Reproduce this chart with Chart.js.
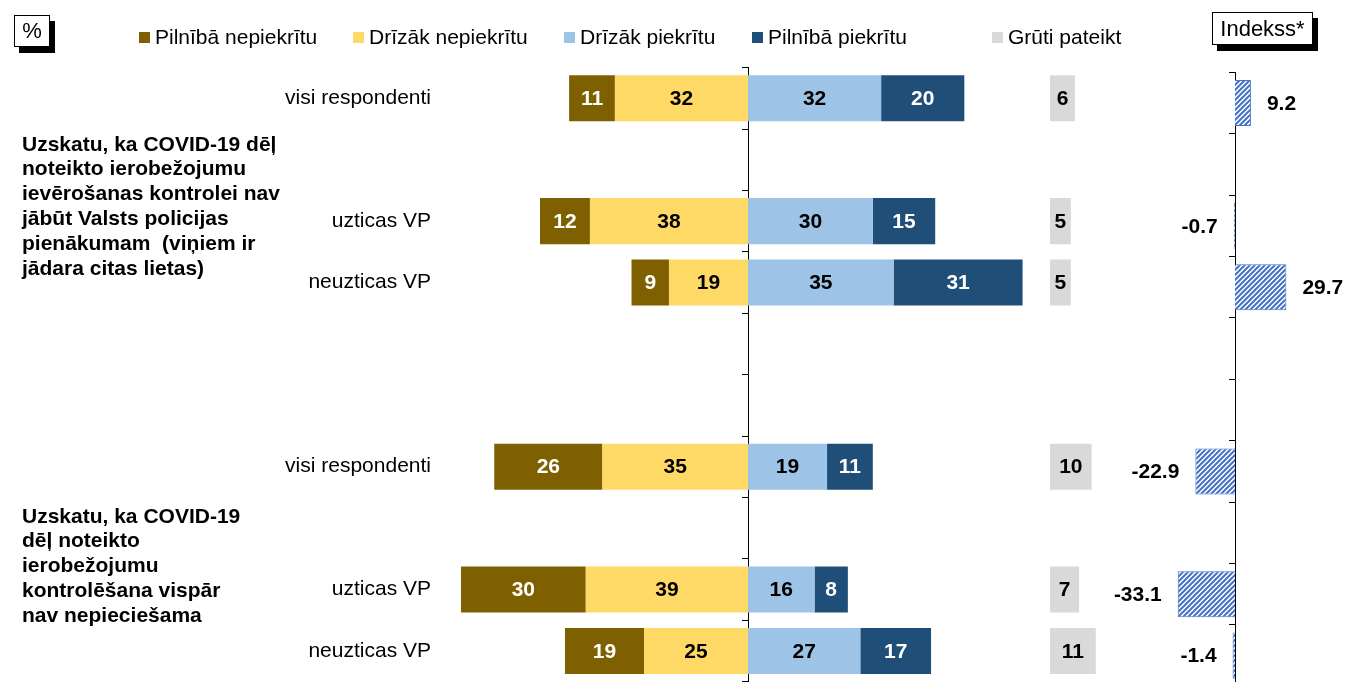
<!DOCTYPE html>
<html>
<head>
<meta charset="utf-8">
<script src="https://cdn.jsdelivr.net/npm/chart.js@4"></script>
<style>
  body { margin: 0; width: 1347px; height: 682px; overflow: hidden; background: #fff; position: relative;
         font-family: "Liberation Sans", Arial, sans-serif; color: #000; }
  canvas { position: absolute; }
  #main { left: 0; top: 0; }
  #idx { left: 1090px; top: 5px; }
  .box { position: absolute; border: 1px solid #000; background: #fff; box-shadow: 5px 6px 0 #000;
         text-align: center; box-sizing: border-box; z-index: 2; }
  .lg { position: absolute; top: 26px; font-size: 21px; line-height: 22px; white-space: nowrap; z-index: 2; }
  .lg i { position: absolute; left: -16px; top: 6px; width: 11px; height: 11px; }
  .grp { position: absolute; left: 22px; font-weight: bold; font-size: 21px; line-height: 24.8px;
         white-space: nowrap; z-index: 2; }
</style>
</head>
<body>
<canvas id="main" width="1347" height="720"></canvas>
<canvas id="idx" width="257" height="720"></canvas>

<div class="box" style="left:14px;top:15px;width:36px;height:32px;font-size:22px;line-height:30px;">%</div>
<div class="box" style="left:1212px;top:12px;width:101px;height:33px;font-size:22px;line-height:31px;">Indekss*</div>

<div class="lg" style="left:155px"><i style="background:#7F6000"></i>Pilnībā nepiekrītu</div>
<div class="lg" style="left:369px"><i style="background:#FFD966"></i>Drīzāk nepiekrītu</div>
<div class="lg" style="left:580px"><i style="background:#9DC3E6"></i>Drīzāk piekrītu</div>
<div class="lg" style="left:768px"><i style="background:#1F4E79"></i>Pilnībā piekrītu</div>
<div class="lg" style="left:1008px"><i style="background:#D9D9D9"></i>Grūti pateikt</div>

<div class="grp" style="top:131.6px">Uzskatu, ka COVID-19 dēļ<br>noteikto ierobežojumu<br>ievērošanas kontrolei nav<br>jābūt Valsts policijas<br>pienākumam &nbsp;(viņiem ir<br>jādara citas lietas)</div>
<div class="grp" style="top:503.6px">Uzskatu, ka COVID-19<br>dēļ noteikto<br>ierobežojumu<br>kontrolēšana vispār<br>nav nepieciešama</div>

<script>
// rindas (tukšās rindas = atstarpes starp grupām)
const categories = ['visi respondenti', '', 'uzticas VP', 'neuzticas VP', '', '', 'visi respondenti', '', 'uzticas VP', 'neuzticas VP'];

const pilnibaNepiekritu = [11, null, 12, 9, null, null, 26, null, 30, 19];
const drizakNepiekritu  = [32, null, 38, 19, null, null, 35, null, 39, 25];
const drizakPiekritu    = [32, null, 30, 35, null, null, 19, null, 16, 27];
const pilnibaPiekritu   = [20, null, 15, 31, null, null, 11, null, 8, 17];
const grutiPateikt      = [6, null, 5, 5, null, null, 10, null, 7, 11];
const indekss           = [9.2, null, -0.7, 29.7, null, null, -22.9, null, -33.1, -1.4];

const FONT = '"Liberation Sans", Arial, sans-serif';
const neg = arr => arr.map(v => v == null ? null : -v);

// skaitļi joslu vidū
const barLabels = {
    id: 'barLabels',
    afterDatasetsDraw(chart) {
        const ctx = chart.ctx;
        ctx.save();
        ctx.font = 'bold 21px ' + FONT;
        ctx.textAlign = 'center';
        ctx.textBaseline = 'middle';
        chart.data.datasets.forEach((ds, i) => {
            chart.getDatasetMeta(i).data.forEach((bar, j) => {
                const v = ds.data[j];
                if (v == null) return;
                ctx.fillStyle = ds.labelColor;
                ctx.fillText(Math.abs(v), (bar.x + bar.base) / 2, bar.y + 1);
            });
        });
        ctx.restore();
    }
};

// indeksa vērtības aiz joslas gala
const indexLabels = {
    id: 'indexLabels',
    afterDatasetsDraw(chart) {
        const ctx = chart.ctx;
        ctx.save();
        ctx.font = 'bold 21px ' + FONT;
        ctx.textBaseline = 'middle';
        ctx.fillStyle = '#000';
        chart.getDatasetMeta(0).data.forEach((bar, j) => {
            const v = indekss[j];
            if (v == null) return;
            ctx.textAlign = v >= 0 ? 'left' : 'right';
            ctx.fillText(v.toFixed(1), v >= 0 ? bar.x + 16 : bar.x - 16, bar.y + 1);
        });
        ctx.restore();
    }
};

const centerAxis = (xId) => ({
    type: 'category',
    axis: 'y',
    position: { [xId]: 0 },
    offset: true,
    grid: { offset: true, drawOnChartArea: false, drawTicks: true, tickLength: 6, color: '#000', lineWidth: 1 },
    border: { display: true, color: '#000', width: 1 },
    ticks: { display: false }
});

new Chart(document.getElementById('main'), {
    type: 'bar',
    data: {
        labels: categories,
        datasets: [
            { label: 'Drīzāk nepiekrītu', data: neg(drizakNepiekritu), backgroundColor: '#FFD966', labelColor: '#000' },
            { label: 'Pilnībā nepiekrītu', data: neg(pilnibaNepiekritu), backgroundColor: '#7F6000', labelColor: '#fff' },
            { label: 'Drīzāk piekrītu', data: drizakPiekritu, backgroundColor: '#9DC3E6', labelColor: '#000' },
            { label: 'Pilnībā piekrītu', data: pilnibaPiekritu, backgroundColor: '#1F4E79', labelColor: '#fff' },
            { label: 'Grūti pateikt', data: grutiPateikt, backgroundColor: '#D9D9D9', labelColor: '#000', xAxisID: 'xg' }
        ]
    },
    options: {
        indexAxis: 'y',
        responsive: false,
        animation: false,
        events: [],
        layout: { padding: { top: 67.6, bottom: 38.4, left: 0, right: 207 } },
        datasets: { bar: { grouped: false, barPercentage: 0.75, categoryPercentage: 1 } },
        plugins: { legend: { display: false }, tooltip: { enabled: false } },
        scales: {
            x: { type: 'linear', display: false, stacked: true, min: -74.04, max: 94.23 },
            xg: { type: 'linear', axis: 'x', display: false, min: -146.63, max: 21.63 },
            y: {
                type: 'category',
                stacked: true,
                offset: true,
                grid: { display: false, drawTicks: false },
                border: { display: false },
                ticks: { color: '#000', padding: 9, font: { size: 21, family: FONT } },
                afterFit(scale) { scale.width = 440; }
            },
            y2: centerAxis('x')
        }
    },
    plugins: [barLabels]
});

// indeksa josla ar slīpu svītrojumu
const idxCanvas = document.getElementById('idx');
const tile = document.createElement('canvas');
tile.width = 5; tile.height = 5;
const tg = tile.getContext('2d');
tg.fillStyle = '#fff';
tg.fillRect(0, 0, 5, 5);
tg.strokeStyle = '#4472C4';
tg.lineWidth = 2;
tg.beginPath();
tg.moveTo(-1, 6); tg.lineTo(6, -1);
tg.moveTo(-1, 1); tg.lineTo(1, -1);
tg.moveTo(4, 6); tg.lineTo(6, 4);
tg.stroke();
const hatch = idxCanvas.getContext('2d').createPattern(tile, 'repeat');

new Chart(idxCanvas, {
    type: 'bar',
    data: {
        labels: categories,
        datasets: [{
            label: 'Indekss*',
            data: indekss,
            backgroundColor: hatch,
            borderColor: '#4472C4',
            borderWidth: 1
        }]
    },
    options: {
        indexAxis: 'y',
        responsive: false,
        animation: false,
        events: [],
        layout: { padding: { top: 67.3, bottom: 38.7, left: 0, right: 0 } },
        datasets: { bar: { barPercentage: 0.75, categoryPercentage: 1 } },
        plugins: { legend: { display: false }, tooltip: { enabled: false } },
        scales: {
            x: { type: 'linear', display: false, min: -83.82, max: 64.74 },
            y: centerAxis('x')
        }
    },
    plugins: [indexLabels]
});
</script>
</body>
</html>
